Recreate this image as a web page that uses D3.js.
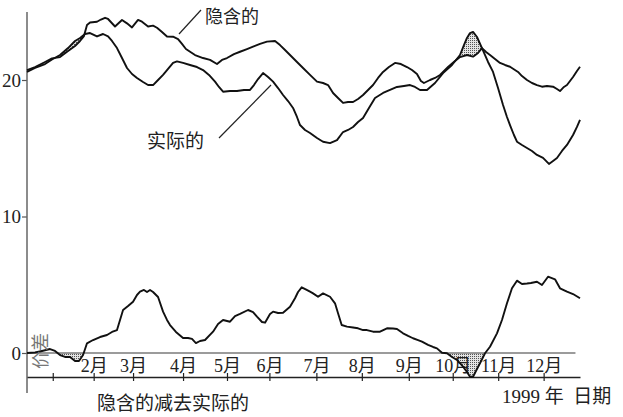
<!DOCTYPE html>
<html><head><meta charset="utf-8">
<script src="https://cdn.jsdelivr.net/npm/d3@7"></script>
<style>body{margin:0;background:#fff}svg{display:block}</style>
</head><body>
<svg id="c" width="623" height="417"></svg>
<script>
// day-of-year (1999) and volatility values
const impliedDays = [0,5.3,11.9,16.5,21.8,27.1,31.7,35.0,37.6,39.6,41.6,46.2,48.8,51.5,53.5,58.1,62.7,66.0,69.3,73.3,75.9,79.9,83.2,85.8,89.1,92.4,96.4,99.7,102.3,104.9,110.9,116.2,120.8,125.4,128.7,132.0,136.6,140.6,145.2,149.2,153.8,158.4,163.7,167.0,170.3,173.6,178.2,182.2,186.8,191.4,195.4,198.7,202.0,205.3,208.6,211.9,215.2,218.5,221.8,225.1,228.4,231.7,235.0,238.9,242.9,246.8,250.8,254.1,257.4,260.0,262.0,266.0,269.3,272.6,277.9,282.5,285.8,290.4,294.4,297.7,300.3,303.0,305.6,308.9,312.2,315.5,318.8,324.1,326.7,330.0,333.3,336.6,339.9,343.2,347.2,349.8,351.8,354.4,356.4,360.4,363.0,365.0];
const impliedVals = [20.73,20.95,21.32,21.58,21.68,22.12,22.49,22.86,23.22,24.03,24.21,24.27,24.43,24.56,24.47,23.92,24.40,24.15,23.85,24.40,24.27,23.92,23.98,23.83,23.52,23.19,23.17,23.00,22.64,22.27,21.83,21.61,21.47,21.17,21.47,21.61,21.90,22.07,22.27,22.44,22.64,22.81,22.86,22.56,22.20,21.83,21.32,20.88,20.37,19.88,19.78,19.63,19.05,18.68,18.32,18.39,18.39,18.61,18.90,19.27,19.63,20.15,20.59,20.95,21.25,21.17,20.95,20.73,20.44,19.93,19.78,20.00,20.15,20.37,20.95,21.39,21.68,21.83,21.71,21.98,22.34,22.05,21.83,21.54,21.25,21.10,20.97,20.59,20.29,20.00,19.78,19.63,19.51,19.56,19.51,19.34,19.19,19.49,19.63,20.22,20.66,20.97];

const actualDays = [0,5.3,11.9,16.5,21.8,27.1,31.7,35.0,38.3,41.6,46.2,50.2,53.5,56.1,59.4,62.7,66.0,69.3,72.6,76.6,79.9,83.2,86.5,89.8,93.1,96.4,99.0,103.0,107.6,112.2,116.2,120.1,124.1,126.7,129.4,134.0,138.6,143.2,147.2,149.8,152.5,155.8,159.1,162.4,165.7,169.0,172.3,175.6,178.2,180.2,183.5,186.8,191.4,195.4,200.0,204.6,208.6,211.9,215.2,218.5,221.8,225.7,229.7,235.0,239.6,244.2,248.8,252.8,256.1,259.4,264.0,269.3,274.6,280.5,285.8,288.4,290.4,292.4,294.4,297.0,300.3,304.3,307.6,310.9,314.2,316.8,318.8,321.4,323.4,326.7,330.0,333.3,336.6,340.6,344.5,347.2,349.8,353.1,356.4,360.4,363.0,365.0];
const actualVals = [20.59,20.88,21.17,21.50,21.83,22.34,22.86,23.08,23.37,23.44,23.19,23.37,23.19,22.86,22.34,21.61,20.88,20.44,20.15,19.85,19.63,19.63,20.00,20.37,20.81,21.25,21.36,21.25,21.10,20.95,20.73,20.37,19.88,19.49,19.14,19.19,19.19,19.27,19.27,19.63,20.07,20.51,20.22,19.88,19.41,18.90,18.46,17.95,17.29,16.70,16.34,16.12,15.75,15.48,15.38,15.60,16.19,16.34,16.56,16.92,17.22,17.95,18.68,19.05,19.27,19.49,19.56,19.63,19.49,19.27,19.27,19.78,20.51,21.10,21.83,22.56,23.08,23.44,23.52,23.15,22.34,21.32,20.59,19.41,18.17,17.29,16.70,15.97,15.48,15.24,15.02,14.80,14.51,14.29,13.85,14.07,14.29,14.80,15.24,15.97,16.56,17.07];

const diffDays = [0,5.3,9.9,15.2,18.5,21.8,25.1,28.4,31.7,34.3,37.0,39.6,43.6,48.2,52.8,56.1,59.4,61.4,63.4,66.7,70.0,72.6,74.6,77.2,79.2,81.2,83.2,86.5,89.8,92.4,94.4,98.3,103.0,106.3,108.9,111.5,114.2,117.5,122.8,126.1,129.4,134.0,137.3,140.6,145.9,149.2,151.8,155.1,157.1,160.4,162.4,165.7,169.0,173.6,176.9,178.9,181.3,184.6,186.8,188.8,192.1,195.4,200.0,203.3,205.3,207.7,211.2,215.2,218.5,221.8,224.4,228.4,233.0,237.6,241.6,244.2,248.2,251.5,254.8,258.1,260.7,264.7,268.0,270.6,273.9,277.2,280.5,283.8,287.8,290.4,292.4,294.4,297.0,299.0,302.3,305.6,310.2,313.5,316.8,320.1,323.4,326.7,330.0,332.6,336.6,339.9,343.9,348.5,351.8,356.4,360.4,365.0];
const diffVals = [0,0.04,0.15,0.29,0.15,-0.15,-0.29,-0.29,-0.59,-0.59,-0.15,0.71,0.95,1.17,1.32,1.54,1.68,2.42,3.15,3.44,3.76,4.25,4.49,4.62,4.47,4.62,4.47,4.10,3.03,2.42,2.05,1.54,1.10,1.10,1.03,0.73,0.88,0.95,1.56,2.12,2.42,2.29,2.71,2.86,3.15,3.00,2.66,2.27,2.22,2.86,3.03,2.93,2.95,3.39,4.01,4.47,4.81,4.62,4.49,4.37,4.12,4.37,4.12,3.64,2.91,2.05,1.93,1.87,1.81,1.68,1.68,1.56,1.56,1.81,1.79,1.76,1.44,1.25,1.08,0.95,0.83,0.59,0.44,0.34,0.02,-0.02,-0.29,-0.51,-1.00,-1.39,-1.74,-1.74,-1.17,-0.75,-0.02,0.46,1.44,2.42,3.64,4.74,5.30,5.05,5.09,5.13,5.22,4.98,5.59,5.40,4.74,4.49,4.32,4.01];

const yTicks = [0, 10, 20];
const monthDays = [17, 44, 70, 103, 132, 160, 191, 221, 252, 281, 311, 341];
const monthLabels = ["", "2月", "3月", "4月", "5月", "6月", "7月", "8月", "9月", "10月", "11月", "12月"];

const zip = (d, v) => d.map((x, i) => ({d: x, v: v[i]}));
const implied = zip(impliedDays, impliedVals);
const actual = zip(actualDays, actualVals);
const diff = zip(diffDays, diffVals);

const svg = d3.select("#c");
const x = d3.scaleLinear().domain([0, 365]).range([27, 580]);
const y = d3.scaleLinear().domain([0, 20]).range([353, 80]);
const serif = "'Liberation Serif','Noto Sans CJK SC',serif";
const cjk = "'Noto Sans CJK SC','Liberation Serif',serif";

const defs = svg.append("defs");
const pat = defs.append("pattern").attr("id", "dots").attr("patternUnits", "userSpaceOnUse")
  .attr("width", 2).attr("height", 2);
pat.append("rect").attr("width", 2).attr("height", 2).attr("fill", "#e4e4e4");
pat.append("rect").attr("width", 1).attr("height", 1).attr("fill", "#555");

const line = d3.line().x(p => x(p.d)).y(p => y(p.v));

// clip: region above implied line
defs.append("clipPath").attr("id", "aboveImplied").append("path")
  .attr("d", d3.area().x(p => x(p.d)).y0(0).y1(p => y(p.v))(implied));
// shade where actual > implied
svg.append("path")
  .attr("d", d3.area().x(p => x(p.d)).y0(y(0)).y1(p => y(p.v))(actual))
  .attr("fill", "url(#dots)").attr("clip-path", "url(#aboveImplied)");

// clip: below zero line
defs.append("clipPath").attr("id", "belowZero").append("rect")
  .attr("x", 0).attr("y", y(0)).attr("width", 623).attr("height", 100);
svg.append("path")
  .attr("d", d3.area().x(p => x(p.d)).y0(y(0)).y1(p => y(p.v))(diff))
  .attr("fill", "url(#dots)").attr("clip-path", "url(#belowZero)");

// zero line
svg.append("line").attr("x1", x(0)).attr("x2", x(362)).attr("y1", y(0)).attr("y2", y(0))
  .attr("stroke", "#7a7a7a").attr("stroke-width", 1.5);

// y axis
const yAxis = svg.append("g").attr("transform", `translate(${x(0)},0)`)
  .call(d3.axisLeft(y).tickValues(yTicks).tickSize(5).tickPadding(1).tickFormat(d3.format("d")));
yAxis.select(".domain").remove();
yAxis.selectAll(".tick line").attr("stroke", "#555").attr("stroke-width", 1.2);
yAxis.selectAll(".tick text").attr("font-family", serif).attr("font-size", 19).attr("fill", "#222");
svg.append("line").attr("x1", x(0)).attr("x2", x(0)).attr("y1", 12).attr("y2", 393)
  .attr("stroke", "#666").attr("stroke-width", 1.5);

// date axis
const xAxis = svg.append("g").attr("transform", "translate(0,377)")
  .call(d3.axisBottom(x).tickValues(monthDays).tickSizeOuter(0)
    .tickFormat((d, i) => monthLabels[i]));
xAxis.select(".domain").attr("stroke", "#222").attr("stroke-width", 1.3);
xAxis.selectAll(".tick line").attr("y1", -4).attr("y2", 4).attr("stroke", "#222").attr("stroke-width", 1.2);
xAxis.selectAll(".tick text").attr("y", -5).attr("dy", 0).attr("font-family", serif)
  .attr("font-size", 18).attr("fill", "#222");

// lines
[implied, actual, diff].forEach(s => {
  svg.append("path").attr("d", line(s)).attr("fill", "none")
    .attr("stroke", "#111").attr("stroke-width", 1.9).attr("stroke-linejoin", "round");
});

// labels
svg.append("text").attr("x", 205).attr("y", 23).text("隐含的")
  .attr("font-family", cjk).attr("font-size", 18).attr("fill", "#222");
svg.append("line").attr("x1", 179).attr("y1", 34).attr("x2", 201).attr("y2", 10)
  .attr("stroke", "#222").attr("stroke-width", 1.2);
svg.append("text").attr("x", 147).attr("y", 148).text("实际的")
  .attr("font-family", cjk).attr("font-size", 19).attr("fill", "#222");
svg.append("line").attr("x1", 219).attr("y1", 138).attr("x2", 271).attr("y2", 85)
  .attr("stroke", "#222").attr("stroke-width", 1.2);
svg.append("text").attr("transform", "translate(47,351) rotate(-90)").attr("text-anchor", "middle")
  .text("价差").attr("font-family", cjk).attr("font-size", 18).attr("fill", "#777");
svg.append("text").attr("x", 502).attr("y", 403)
  .text("1999 年  日期").attr("font-family", serif).attr("font-size", 19).attr("fill", "#222")
  .style("white-space", "pre");
svg.append("text").attr("x", 97).attr("y", 410).text("隐含的减去实际的")
  .attr("font-family", cjk).attr("font-size", 19).attr("fill", "#222");
</script>
</body></html>
